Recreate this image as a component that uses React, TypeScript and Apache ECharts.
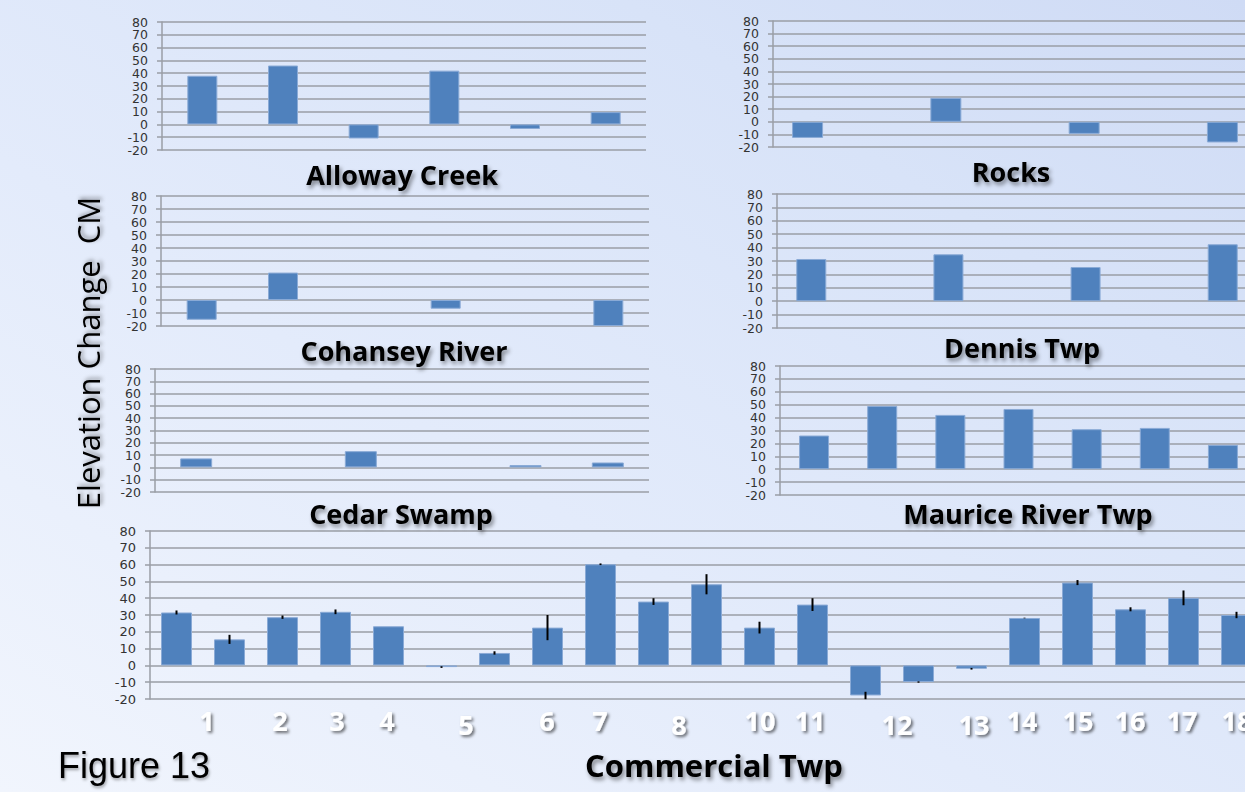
import React, { useEffect, useRef } from "react";
import * as echarts from "echarts";

// ---------- data ----------
const allowaySites = ["A1", "A2", "A3", "A4", "A5", "A6"];
const allowayValues = [38, 46, -11, 42, -3.6, 9.6];

const rocksSites = ["R1", "R2", "R3", "R4", "R5", "R6", "R7"];
const rocksValues = [-12.8, null, 19, null, -9.6, null, -16.4];

const cohanseySites = ["C1", "C2", "C3", "C4", "C5", "C6"];
const cohanseyValues = [-15.2, 21.1, null, -6.7, null, -20];

const dennisSites = ["D1", "D2", "D3", "D4", "D5", "D6", "D7"];
const dennisValues = [31.5, null, 35, null, 25.5, null, 42.5];

const cedarSites = ["S1", "S2", "S3", "S4", "S5", "S6"];
const cedarValues = [7.3, null, 13.2, null, 1.9, 4];

const mauriceSites = ["M1", "M2", "M3", "M4", "M5", "M6", "M7"];
const mauriceValues = [26.1, 49, 42.1, 46.7, 31, 32, 18.8];

const commercialSites = [
  "1", "2", "3", "4", "5", "6", "7", "8", "9", "10", "11",
  "12", "13", "14", "15", "16", "17", "18", "19", "20", "21",
];
const commercialValues = [
  31.5, 15.5, 28.7, 31.9, 23.3, -1, 7.4, 22.5, 60.2, 38, 48.3,
  22.5, 36.2, -17.9, -9.9, -2, 28.2, 49.3, 33.4, 40.2, 30,
];
const commercialErrors = [
  1.2, 2.7, 1, 1.4, 0, 0.5, 1, 7.5, 0.5, 2, 6,
  3.5, 3.8, 2.2, 0.4, 0.5, 0.2, 1.5, 1.2, 4.4, 1.9,
];
const commercialTickLabels = [
  "1", "2", "3", "4", "5", "6", "7", "8", "10", "11",
  "12", "13", "14", "15", "16", "17", "18",
];
const commercialTickLow = ["5", "8", "12", "13"];

const yMin = -20;
const yMax = 80;
const yStep = 10;

// ---------- layout (pixels) ----------
const commercialTickX = [
  207, 280, 337, 387, 466, 547, 600, 679, 760, 810,
  897, 974, 1022, 1078, 1130, 1182, 1237,
];

const panels = [
  { title: "Alloway Creek", sites: allowaySites, values: allowayValues, left: 162, top: 22, width: 484, height: 128, barWidth: 30, tx: 402, ty: 174 },
  { title: "Rocks", sites: rocksSites, values: rocksValues, left: 773, top: 21, width: 484, height: 126, barWidth: 31, tx: 1011, ty: 171 },
  { title: "Cohansey River", sites: cohanseySites, values: cohanseyValues, left: 161, top: 196, width: 488, height: 130, barWidth: 30, tx: 404, ty: 350 },
  { title: "Dennis Twp", sites: dennisSites, values: dennisValues, left: 777, top: 194, width: 480, height: 134, barWidth: 30, tx: 1022, ty: 347 },
  { title: "Cedar Swamp", sites: cedarSites, values: cedarValues, left: 155, top: 369, width: 494, height: 123, barWidth: 32, tx: 401, ty: 513 },
  { title: "Maurice River Twp", sites: mauriceSites, values: mauriceValues, left: 780, top: 366, width: 477, height: 129, barWidth: 30, tx: 1028, ty: 513 },
  { title: "Commercial Twp", sites: commercialSites, values: commercialValues, left: 150, top: 531, width: 1113, height: 168, barWidth: 31, tx: 714, ty: 765 },
];

const gridColor = "#9a9ea6";
const barColor = "#4f81bd";

export default function App() {
  const ref = useRef<HTMLDivElement>(null);

  useEffect(() => {
    if (!ref.current) return;
    const chart = echarts.init(ref.current, null, { renderer: "svg" });

    const grids = panels.map((p) => ({
      left: p.left,
      top: p.top,
      width: p.width,
      height: p.height,
      containLabel: false,
    }));

    const xAxes = panels.map((p, i) => ({
      type: "category",
      gridIndex: i,
      data: p.sites,
      axisLine: { show: false },
      axisTick: { show: false },
      axisLabel: { show: false },
      splitLine: { show: false },
    }));

    const labelBase = (i: number) => ({
      fontSize: i === 6 ? 13 : 12.5,
      color: "#333333",
      fontFamily: "DejaVu Sans",
      margin: 14,
      showMinLabel: true,
      showMaxLabel: true,
      hideOverlap: false,
    });

    // main axes: line, ticks, grid lines and the labels of the even tick values
    const yAxesMain = panels.map((p, i) => ({
      type: "value",
      gridIndex: i,
      min: yMin,
      max: yMax,
      interval: yStep,
      axisLine: { show: true, lineStyle: { color: gridColor, width: 1.5 } },
      axisTick: { show: true, length: 5, lineStyle: { color: gridColor, width: 1.5 } },
      axisLabel: {
        ...labelBase(i),
        formatter: (v: number) => (Math.round(v / yStep) % 2 === 0 ? String(v) : ""),
      },
      splitLine: { show: true, lineStyle: { color: gridColor, width: 1.5 } },
    }));

    // companion axes: labels of the odd tick values only
    const yAxesOdd = panels.map((p, i) => ({
      type: "value",
      gridIndex: i,
      position: "left",
      offset: 0,
      min: yMin,
      max: yMax,
      interval: yStep,
      axisLine: { show: false },
      axisTick: { show: false },
      axisLabel: {
        ...labelBase(i),
        formatter: (v: number) => (Math.round(v / yStep) % 2 !== 0 ? String(v) : ""),
      },
      splitLine: { show: false },
    }));

    const barSeries = panels.map((p, i) => ({
      type: "bar",
      xAxisIndex: i,
      yAxisIndex: i,
      data: p.values,
      barWidth: p.barWidth,
      itemStyle: { color: barColor, borderColor: "#8aaad6", borderWidth: 1 },
      z: 2,
    }));

    const errSeries = {
      type: "custom",
      xAxisIndex: 6,
      yAxisIndex: 6,
      data: commercialValues.map((v, i) => [i, v - commercialErrors[i], v + commercialErrors[i]]),
      encode: { x: 0, y: [1, 2] },
      renderItem: (params: any, api: any) => {
        const lo = api.coord([api.value(0), api.value(1)]);
        const hi = api.coord([api.value(0), api.value(2)]);
        return {
          type: "line",
          shape: { x1: lo[0], y1: lo[1], x2: hi[0], y2: hi[1] },
          style: { stroke: "#000", lineWidth: 2 },
        };
      },
      z: 5,
    };

    const titleShadow = {
      textShadowColor: "rgba(0,0,0,0.45)",
      textShadowBlur: 4,
      textShadowOffsetX: 2,
      textShadowOffsetY: 3,
    };

    const graphics: any[] = [];
    panels.forEach((p, i) => {
      graphics.push({
        type: "text",
        x: p.tx,
        y: p.ty,
        style: {
          text: p.title,
          fill: "#000",
          font: i === 6 ? "bold 31px 'Open Sans'" : "bold 27px 'Open Sans'",
          textAlign: "center",
          textVerticalAlign: "middle",
          ...titleShadow,
        },
        z: 10,
      });
    });

    commercialTickLabels.forEach((t, i) => {
      graphics.push({
        type: "text",
        x: commercialTickX[i],
        y: commercialTickLow.includes(t) ? 724 : 720,
        style: {
          text: t,
          fill: "#ffffff",
          font: "bold 27px 'Open Sans'",
          textAlign: "center",
          textVerticalAlign: "middle",
          textShadowColor: "rgba(0,0,0,0.55)",
          textShadowBlur: 3,
          textShadowOffsetX: 2,
          textShadowOffsetY: 2,
        },
        z: 10,
      });
    });

    graphics.push({
      type: "text",
      x: 58,
      y: 765,
      style: {
        text: "Figure 13",
        fill: "#000",
        font: "36px 'Liberation Sans'",
        textAlign: "left",
        textVerticalAlign: "middle",
        textShadowColor: "rgba(0,0,0,0.35)",
        textShadowBlur: 3,
        textShadowOffsetX: 1,
        textShadowOffsetY: 2,
      },
      z: 10,
    });

    graphics.push({
      type: "text",
      x: 88,
      y: 353,
      rotation: Math.PI / 2,
      style: {
        text: "Elevation Change  CM",
        fill: "#000",
        font: "31px 'Open Sans'",
        textAlign: "center",
        textVerticalAlign: "middle",
        textShadowColor: "rgba(0,0,0,0.4)",
        textShadowBlur: 4,
        textShadowOffsetX: 2,
        textShadowOffsetY: 2,
      },
      z: 10,
    });

    chart.setOption({
      animation: false,
      backgroundColor: "transparent",
      grid: grids,
      xAxis: xAxes,
      yAxis: [...yAxesMain, ...yAxesOdd],
      series: [...barSeries, errSeries],
      graphic: graphics,
    });

    return () => chart.dispose();
  }, []);

  return (
    <div
      style={{
        position: "fixed",
        left: 0,
        top: 0,
        width: 1245,
        height: 792,
        overflow: "hidden",
        background:
          "linear-gradient(to top right, #f1f5fd 0%, #e3ebfb 40%, #d8e3f8 75%, #cfdbf5 100%)",
      }}
    >
      <div ref={ref} style={{ position: "absolute", left: 0, top: 0, width: 1300, height: 792 }} />
    </div>
  );
}
